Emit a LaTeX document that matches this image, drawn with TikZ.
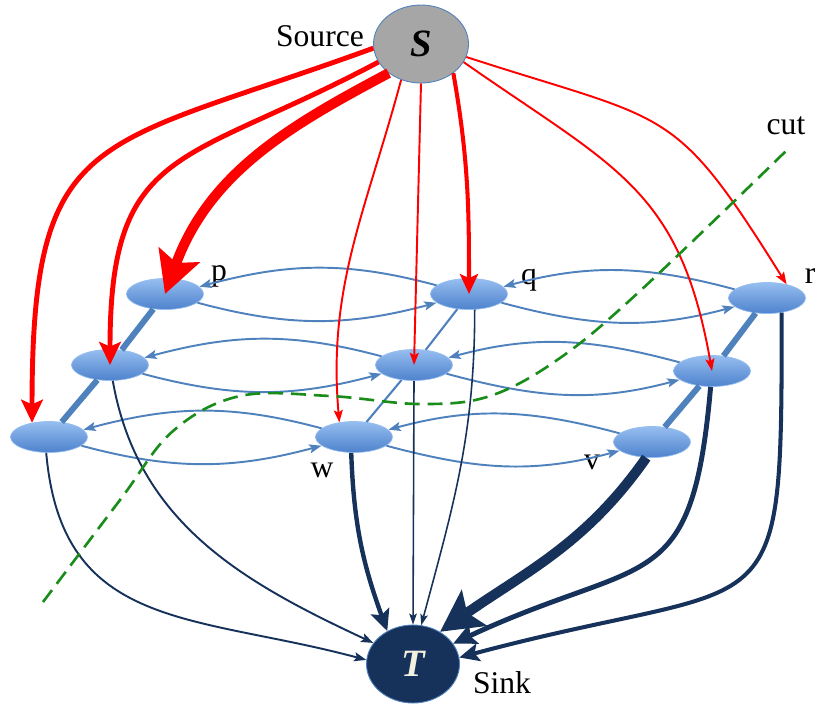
\documentclass[tikz,border=0pt]{standalone}
\usepackage{fontspec}
\setmainfont{Liberation Serif}
\usetikzlibrary{arrows.meta,shapes.geometric}
\definecolor{SourceClr}{rgb}{0.65,0.65,0.65}
\definecolor{CellTop}{RGB}{150,190,240}
\definecolor{CellBot}{RGB}{78,130,205}
\definecolor{FlowClr}{RGB}{79,129,189}
\definecolor{SinkClr}{RGB}{22,50,90}
\definecolor{SinkTxt}{RGB}{242,240,222}
\definecolor{CutClr}{RGB}{25,140,25}

\begin{document}
\begin{tikzpicture}[x=0.02cm,y=0.02cm,
  >={Stealth[length=3pt 3.6,width=0.5pt 4.2,inset'=0pt 0.2]},
  cell/.style={ellipse,minimum width=1.54cm,minimum height=0.62cm,inner sep=0pt,
    draw=CellTop,line width=0.4pt,top color=CellTop,bottom color=CellBot},
  terminal/.style={ellipse,minimum width=1.9cm,minimum height=1.56cm,inner sep=0pt,
    draw=FlowClr,line width=0.5pt,font=\fontsize{22}{24}\selectfont\bfseries\itshape},
  lbl/.style={inner sep=0pt,font=\fontsize{18}{20}\selectfont},
  push/.style={->,draw=red,line width=#1},
  drain/.style={->,draw=SinkClr,line width=#1},
  flow/.style={->,draw=FlowClr,line width=1.1pt},
  rung/.style={draw=FlowClr,line width=#1}]
\useasboundingbox (0,0) rectangle (817,-707);

% source and sink
\node[terminal,fill=SourceClr] (S) at (421,-44) {S};
\node[terminal,fill=SinkClr,text=SinkTxt,minimum width=1.86cm] (T) at (413,-664) {T};

% the 3x3 grid, back row first
\node[cell] (p)  at (165,-294) {};
\node[cell] (q)  at (469,-294) {};
\node[cell] (r)  at (767,-298) {};
\node[cell] (ml) at (110,-365) {};
\node[cell] (mc) at (414,-365) {};
\node[cell] (mr) at (712,-371) {};
\node[cell] (bl) at (49,-437) {};
\node[cell] (w)  at (354,-437) {};
\node[cell] (v)  at (652,-442) {};

\node[lbl] (srclbl) at (320,-36) {Source};
\node[lbl] (snklbl) at (502,-683) {Sink};
\node[lbl] (cutlbl) at (786,-126) {cut};
\node[lbl] (plbl) at (219,-276) {p};
\node[lbl] (qlbl) at (529,-280) {q};
\node[lbl] (rlbl) at (810,-276) {r};
\node[lbl] (wlbl) at (322,-470) {w};
\node[lbl] (vlbl) at (592,-462) {v};

% rungs between the rows
\draw[rung=3.4pt] (p) -- (ml);
\draw[rung=3.4pt] (ml) -- (bl);
\draw[rung=1.2pt] (q) -- (mc);
\draw[rung=1.2pt] (mc) -- (w);
\draw[rung=3.4pt] (r) -- (mr);
\draw[rung=3.4pt] (mr) -- (v);

% flows along each row
\foreach \a/\b in {p/q,q/r,ml/mc,mc/mr,bl/w,w/v}{
  \draw[flow] (\a.-15) to[out=-15,in=195] (\b.195);
  \draw[flow] (\b.165) to[out=165,in=15] (\a.12);
}

% out of the source
\draw[push=2.8pt] (S.185) to[out=200,in=90,looseness=1.5] (bl.140);
\draw[push=2.8pt] (S.203) to[out=208,in=90,looseness=1.4] (ml.center);
\draw[push=5.7pt] (S.222) .. controls +(208:110) and +(70:130) .. (p.center);
\draw[push=1.1pt] (S.241) to[out=255,in=95] (w.135);
\draw[push=1.1pt] (S.270) -- (mc.center);
\draw[push=2.3pt] (S.318) to[out=-80,in=90] (q.center);
\draw[push=1.1pt] (S.337) to[out=-35,in=100,looseness=1.2] (mr.center);
\draw[push=1.1pt] (S.344) to[out=-18,in=122,looseness=1.4] (r.35);

% into the sink
\draw[drain=1.1pt] (bl.260) to[out=-85,in=165,looseness=1.2] (T.175);
\draw[drain=1.1pt] (ml.280) to[out=-80,in=155] (T.152);
\draw[drain=2.5pt] (w.260) to[out=-88,in=110] (T.128);
\draw[drain=0.9pt] (mc.south) -- (T.north);
\draw[drain=0.9pt] (q.290) to[out=-90,in=75] (T.78);
\draw[drain=5.7pt] (v.250) to[out=235,in=35] (T.50);
\draw[drain=2.8pt] (mr.265) to[out=-95,in=25,looseness=1.5] (T.27);
\draw[drain=2.3pt] (r.315) to[out=-90,in=15,looseness=1.8] (T.8);

% the cut
\draw[CutClr,line width=1.5pt,dash pattern=on 8.5pt off 4.5pt]
  plot[smooth,tension=0.6] coordinates {(43,-602) (120,-500) (173,-431) (240,-396)
    (330,-396) (420,-404) (490,-396) (560,-358) (640,-291) (787,-150)};
\end{tikzpicture}
\end{document}
